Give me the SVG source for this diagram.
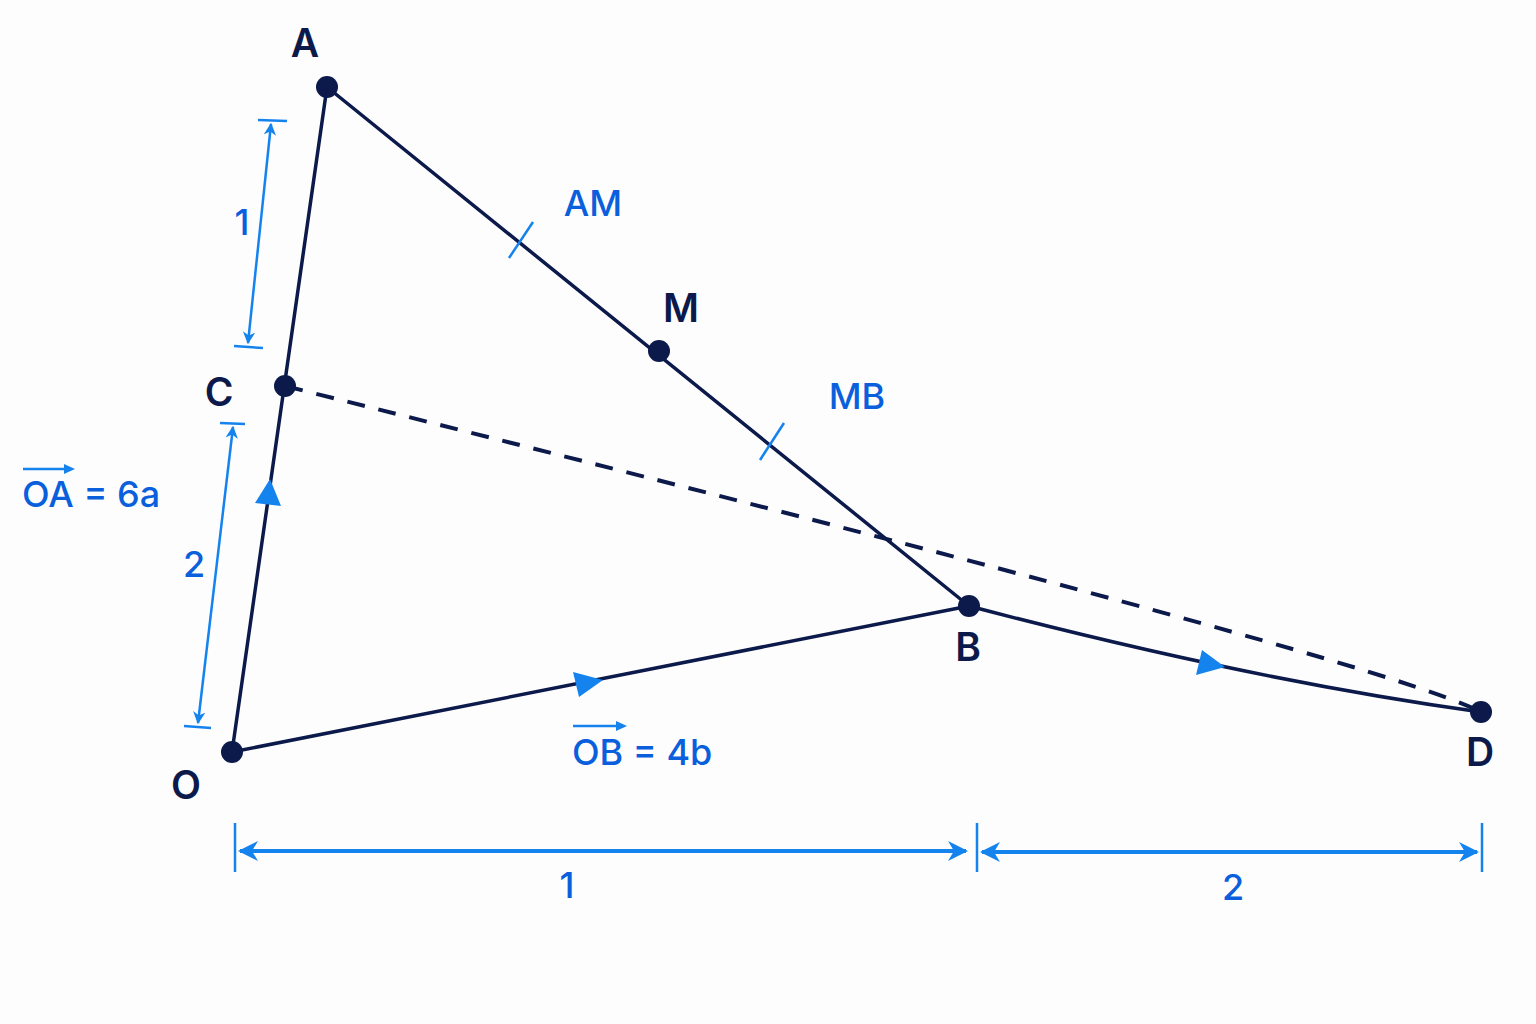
<svg xmlns="http://www.w3.org/2000/svg" width="1536" height="1024" viewBox="0 0 1536 1024">
<style>
.edge{stroke:#0c1a4b;stroke-width:3.5;fill:none;stroke-linecap:round}
.dash{stroke:#0c1a4b;stroke-width:4;fill:none;stroke-dasharray:18 14}
.dim{stroke:#1583ee;stroke-width:2.5;fill:none}
.dimb{stroke:#1583ee;stroke-width:4;fill:none}
.ah{fill:#1583ee}
.dot{fill:#0c1a4b}
.lbl{font-family:Inter,"Open Sans",sans-serif;font-size:39px;font-weight:600;fill:#0c1a4b}
.blbl{font-family:Inter,"Open Sans",sans-serif;font-size:36px;font-weight:500;fill:#0a5fdc}
</style>
<defs>
<marker id="arr" viewBox="0 0 10 10" refX="9" refY="5" markerWidth="5" markerHeight="5" orient="auto-start-reverse" markerUnits="strokeWidth">
<path d="M0,0 L10,5 L0,10 L3,5 Z" fill="#1583ee"/>
</marker>
</defs>
<rect width="1536" height="1024" fill="#fdfdfd"/>
<g id="connectors">
<line class="edge" x1="232" y1="752" x2="327" y2="87"/>
<line class="edge" x1="327" y1="87" x2="969" y2="606"/>
<line class="edge" x1="232" y1="752" x2="969" y2="606"/>
<path class="edge" d="M969,606 Q1250,680 1481,712"/>
<path class="dash" d="M285,386 C900,540 1400,670 1481,712"/>
<polygon class="ah" points="270,479 281,506 255,503"/>
<polygon class="ah" points="603,680 579,697 573,672"/>
<polygon class="ah" points="1225,667 1196,675 1202,650"/>
<line class="dim" x1="533" y1="222" x2="509" y2="258"/>
<line class="dim" x1="784" y1="423" x2="760" y2="460"/>
<line class="dim" x1="271" y1="124" x2="248" y2="343" marker-start="url(#arr)" marker-end="url(#arr)"/>
<line class="dim" x1="258" y1="120" x2="287" y2="121"/>
<line class="dim" x1="234" y1="346" x2="263" y2="348"/>
<line class="dim" x1="233" y1="427" x2="198" y2="723" marker-start="url(#arr)" marker-end="url(#arr)"/>
<line class="dim" x1="220" y1="423" x2="245" y2="424"/>
<line class="dim" x1="184" y1="726" x2="211" y2="728"/>
<line class="dim" x1="235" y1="823" x2="235" y2="872"/>
<line class="dim" x1="977" y1="823" x2="977" y2="872"/>
<line class="dim" x1="1482" y1="823" x2="1482" y2="872"/>
<line class="dimb" x1="240" y1="851" x2="966" y2="851" marker-start="url(#arr)" marker-end="url(#arr)"/>
<line class="dimb" x1="982" y1="852" x2="1477" y2="852" marker-start="url(#arr)" marker-end="url(#arr)"/>
<line class="dim" x1="23" y1="469" x2="70" y2="469"/>
<polygon class="ah" points="75,469 64,464 64,474"/>
<line class="dim" x1="573" y1="726" x2="621" y2="726"/>
<polygon class="ah" points="627,726 616,721 616,731"/>
</g>
<g id="node-A"><circle class="dot" cx="327" cy="87" r="11"/><text class="lbl" x="305" y="57" text-anchor="middle">A</text></g>
<g id="node-M"><circle class="dot" cx="659" cy="351" r="11"/><text class="lbl" x="681" y="322" text-anchor="middle">M</text></g>
<g id="node-C"><circle class="dot" cx="285" cy="386" r="11"/><text class="lbl" x="219" y="406" text-anchor="middle">C</text></g>
<g id="node-B"><circle class="dot" cx="969" cy="606" r="11"/><text class="lbl" x="968" y="661" text-anchor="middle">B</text></g>
<g id="node-O"><circle class="dot" cx="232" cy="752" r="11"/><text class="lbl" x="186" y="799" text-anchor="middle">O</text></g>
<g id="node-D"><circle class="dot" cx="1481" cy="712" r="11"/><text class="lbl" x="1480" y="766" text-anchor="middle">D</text></g>
<g id="labels">
<text class="blbl" x="593" y="216" text-anchor="middle">AM</text>
<text class="blbl" x="857" y="409" text-anchor="middle">MB</text>
<text class="blbl" x="242" y="235" text-anchor="middle">1</text>
<text class="blbl" x="194" y="577" text-anchor="middle">2</text>
<text class="blbl" x="22" y="507">OA = 6a</text>
<text class="blbl" x="572" y="765">OB = 4b</text>
<text class="blbl" x="567" y="898" text-anchor="middle">1</text>
<text class="blbl" x="1233" y="900" text-anchor="middle">2</text>
</g>
</svg>
